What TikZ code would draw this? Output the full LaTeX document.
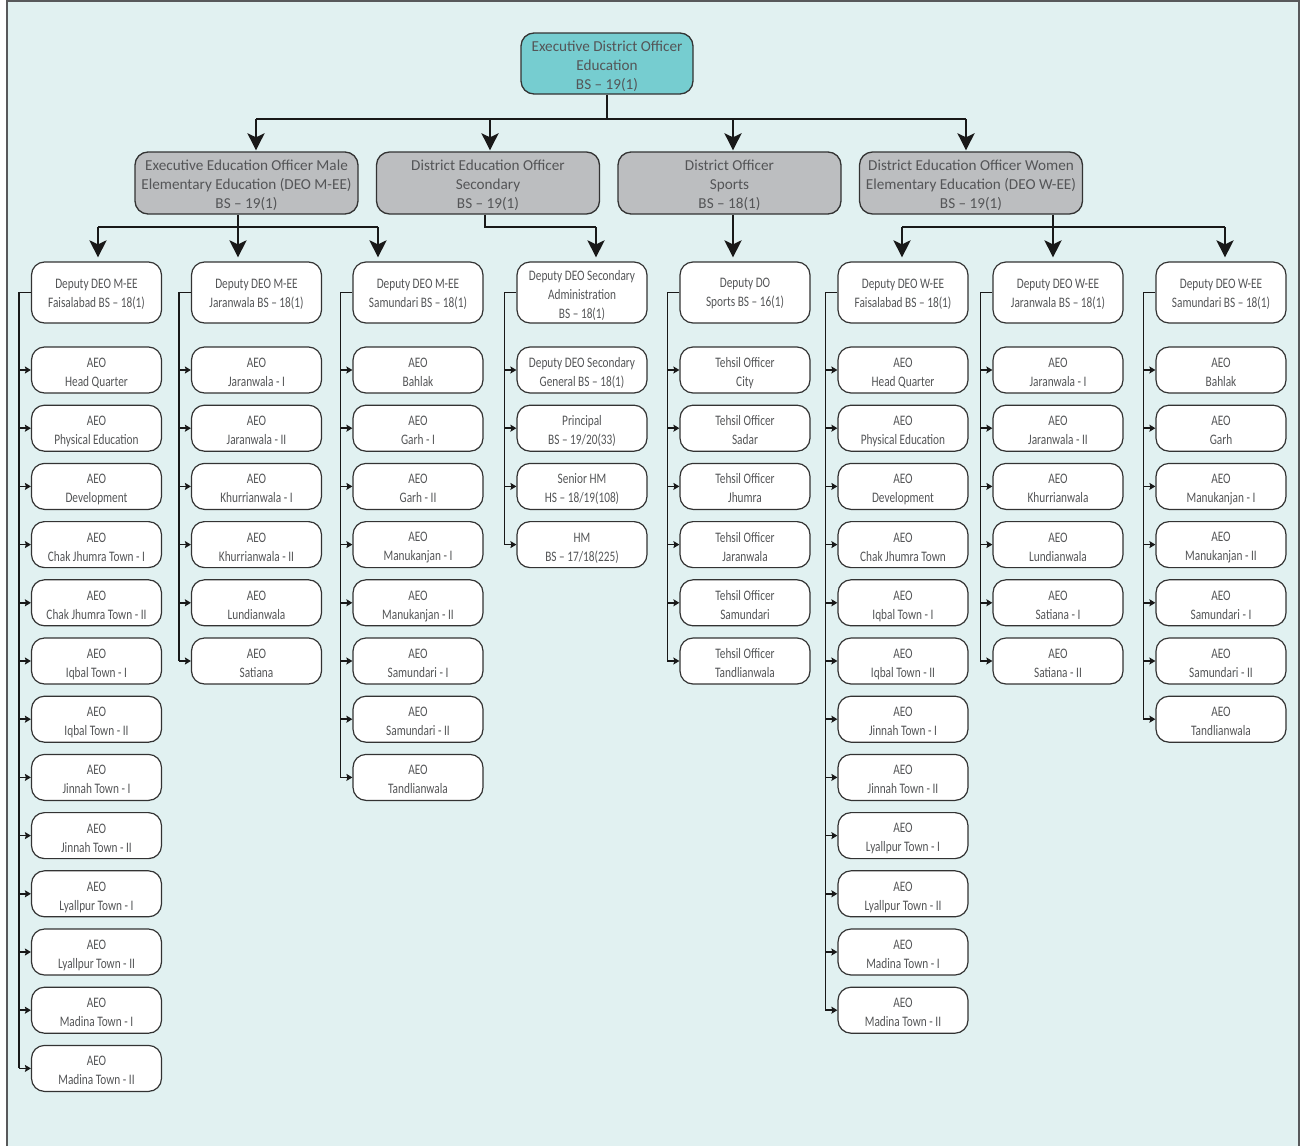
\documentclass[tikz,border=0pt]{standalone}
\usepackage{fontspec}
\setmainfont{Carlito}
\newfontfamily\condfont[FakeStretch=0.78]{Carlito}
\usetikzlibrary{arrows.meta,calc}
\definecolor{bgc}{HTML}{E1F1F1}
\definecolor{framec}{HTML}{58595B}
\definecolor{tealc}{HTML}{76CDD0}
\definecolor{grayc}{HTML}{BCBEC0}
\definecolor{txtc}{HTML}{545557}
\definecolor{edgec}{HTML}{333333}
\newcommand\bx[1]{\rule{0pt}{16pt}#1\rule[-2pt]{0pt}{2pt}}
\newcommand\by[1]{\rule{0pt}{12pt}#1\rule[-2pt]{0pt}{2pt}}
\tikzset{
  boxbase/.style={inner sep=0pt, align=center, text=txtc},
  topbox/.style={boxbase, draw=edgec, line width=1.3pt, rounded corners=13pt, fill=tealc, minimum width=172pt, minimum height=61pt, font=\fontsize{15.2}{19}\selectfont},
  midbox/.style={boxbase, draw=edgec, line width=1.3pt, rounded corners=13pt, fill=grayc, minimum width=223pt, minimum height=62pt, font=\fontsize{15.2}{19}\selectfont},
  depbox/.style={boxbase, draw=edgec, line width=1.2pt, rounded corners=13pt, fill=white, minimum width=130pt, minimum height=61pt, font=\condfont\fontsize{14.5}{19}\selectfont},
  aeobox/.style={boxbase, draw=edgec, line width=1.2pt, rounded corners=13pt, fill=white, minimum width=130pt, minimum height=46pt, font=\condfont\fontsize{14.5}{19}\selectfont},
  mainline/.style={draw=black!90, line width=2.8pt},
  mainarrow/.style={draw=black!90, line width=2.8pt, -{Stealth[length=17pt,width=17pt,inset=4pt]}},
  busline/.style={draw=black!90, line width=1.6pt},
  busarrow/.style={draw=black!90, line width=1.6pt, -{Stealth[length=6pt,width=7pt,inset=1pt]}},
}
\begin{document}
\begin{tikzpicture}[x=1pt,y=-1pt]
\useasboundingbox (0,0) rectangle (1306,1146);
\fill[bgc] (7,1) rectangle (1299,1146);
\draw[framec, line width=1.5pt] (7,1146) -- (7,1) -- (1299,1) -- (1299,1146);

% top
\node[topbox] (edo) at (607,63.5) {\bx{Executive District Officer\\Education\\BS – 19(1)}};

% level 2
\node[midbox] (l2a) at (246.5,183) {\bx{Executive Education Officer Male\\Elementary Education (DEO M-EE)\\BS – 19(1)}};
\node[midbox] (l2b) at (488,183) {\bx{District Education Officer\\Secondary\\BS – 19(1)}};
\node[midbox] (l2c) at (729.5,183) {\bx{District Officer\\Sports\\BS – 18(1)}};
\node[midbox] (l2d) at (971,183) {\bx{District Education Officer Women\\Elementary Education (DEO W-EE)\\BS – 19(1)}};

% level 3
\node[depbox] (c1) at (96.5,292.5) {\by{Deputy DEO M-EE\\Faisalabad BS – 18(1)}};
\node[depbox] (c2) at (256.5,292.5) {\by{Deputy DEO M-EE\\Jaranwala BS – 18(1)}};
\node[depbox] (c3) at (418,292.5) {\by{Deputy DEO M-EE\\Samundari BS – 18(1)}};
\node[depbox] (c4) at (582,292.5) {\bx{Deputy DEO Secondary\\Administration\\BS – 18(1)}};
\node[depbox] (c5) at (745,292.5) {\by{Deputy DO\\Sports BS – 16(1)}};
\node[depbox] (c6) at (903,292.5) {\by{Deputy DEO W-EE\\Faisalabad BS – 18(1)}};
\node[depbox] (c7) at (1058,292.5) {\by{Deputy DEO W-EE\\Jaranwala BS – 18(1)}};
\node[depbox] (c8) at (1221,292.5) {\by{Deputy DEO W-EE\\Samundari BS – 18(1)}};

% children
\foreach \t [count=\k] in {Head Quarter, Physical Education, Development, Chak Jhumra Town - I, Chak Jhumra Town - II, Iqbal Town - I, Iqbal Town - II, Jinnah Town - I, Jinnah Town - II, Lyallpur Town - I, Lyallpur Town - II, Madina Town - I, Madina Town - II}{
  \pgfmathsetmacro{\yy}{370+58.2*(\k-1)}
  \node[aeobox] (c1-\k) at (96.5,\yy) {\bx{AEO\\\t}};
}
\foreach \t [count=\k] in {Jaranwala - I, Jaranwala - II, Khurrianwala - I, Khurrianwala - II, Lundianwala, Satiana}{
  \pgfmathsetmacro{\yy}{370+58.2*(\k-1)}
  \node[aeobox] (c2-\k) at (256.5,\yy) {\bx{AEO\\\t}};
}
\foreach \t [count=\k] in {Bahlak, Garh - I, Garh - II, Manukanjan - I, Manukanjan - II, Samundari - I, Samundari - II, Tandlianwala}{
  \pgfmathsetmacro{\yy}{370+58.2*(\k-1)}
  \node[aeobox] (c3-\k) at (418,\yy) {\bx{AEO\\\t}};
}
\foreach \t [count=\k] in {{Deputy DEO Secondary\\General BS – 18(1)}, {Principal\\BS – 19/20(33)}, {Senior HM\\HS – 18/19(108)}, {HM\\BS – 17/18(225)}}{
  \pgfmathsetmacro{\yy}{370+58.2*(\k-1)}
  \node[aeobox] (c4-\k) at (582,\yy) {\bx{\t}};
}
\foreach \t [count=\k] in {City, Sadar, Jhumra, Jaranwala, Samundari, Tandlianwala}{
  \pgfmathsetmacro{\yy}{370+58.2*(\k-1)}
  \node[aeobox] (c5-\k) at (745,\yy) {\bx{Tehsil Officer\\\t}};
}
\foreach \t [count=\k] in {Head Quarter, Physical Education, Development, Chak Jhumra Town, Iqbal Town - I, Iqbal Town - II, Jinnah Town - I, Jinnah Town - II, Lyallpur Town - I, Lyallpur Town - II, Madina Town - I, Madina Town - II}{
  \pgfmathsetmacro{\yy}{370+58.2*(\k-1)}
  \node[aeobox] (c6-\k) at (903,\yy) {\bx{AEO\\\t}};
}
\foreach \t [count=\k] in {Jaranwala - I, Jaranwala - II, Khurrianwala, Lundianwala, Satiana - I, Satiana - II}{
  \pgfmathsetmacro{\yy}{370+58.2*(\k-1)}
  \node[aeobox] (c7-\k) at (1058,\yy) {\bx{AEO\\\t}};
}
\foreach \t [count=\k] in {Bahlak, Garh, Manukanjan - I, Manukanjan - II, Samundari - I, Samundari - II, Tandlianwala}{
  \pgfmathsetmacro{\yy}{370+58.2*(\k-1)}
  \node[aeobox] (c8-\k) at (1221,\yy) {\bx{AEO\\\t}};
}

% top connectors
\coordinate (t0) at (edo.south |- 0,119);
\draw[mainline] (edo.south) -- (t0);
\draw[mainline] (256,119) -- (966,119);
\foreach \xx/\nm in {256/l2a, 490/l2b, 733/l2c, 966/l2d}{
  \draw[mainarrow] (\xx,119) -- ($(\xx,0 |- \nm.north)+(0,-1)$);
}

% level 2 -> level 3
\draw[mainline] (l2a.south -| 238,0) -- (238,227);
\draw[mainline] (98,227) -- (378,227);
\foreach \xx/\nm in {98/c1, 238/c2, 378/c3}{
  \draw[mainarrow] (\xx,227) -- ($(\xx,0 |- \nm.north)+(0,-4)$);
}
\draw[mainline] (l2b.south -| 485,0) -- (485,227) -- (596,227);
\draw[mainarrow] (596,227) -- ($(596,0 |- c4.north)+(0,-4)$);
\draw[mainarrow] (l2c.south -| 733,0) -- ($(733,0 |- c5.north)+(0,-4)$);
\draw[mainline] (l2d.south -| 1053,0) -- (1053,227);
\draw[mainline] (902,227) -- (1225,227);
\foreach \xx/\nm in {902/c6, 1053/c7, 1225/c8}{
  \draw[mainarrow] (\xx,227) -- ($(\xx,0 |- \nm.north)+(0,-4)$);
}

% buses
\foreach \col/\n in {1/13,2/6,3/8,4/4,5/6,6/12,7/6,8/7}{
  \coordinate (b\col) at ($(c\col.west)+(-12,0)$);
  \draw[busline] (c\col.west) -- (b\col) -- (b\col |- c\col-\n.west);
  \foreach \k in {1,...,\n}{
    \draw[busarrow] (b\col |- c\col-\k.west) -- (c\col-\k.west);
  }
}
\end{tikzpicture}
\end{document}
